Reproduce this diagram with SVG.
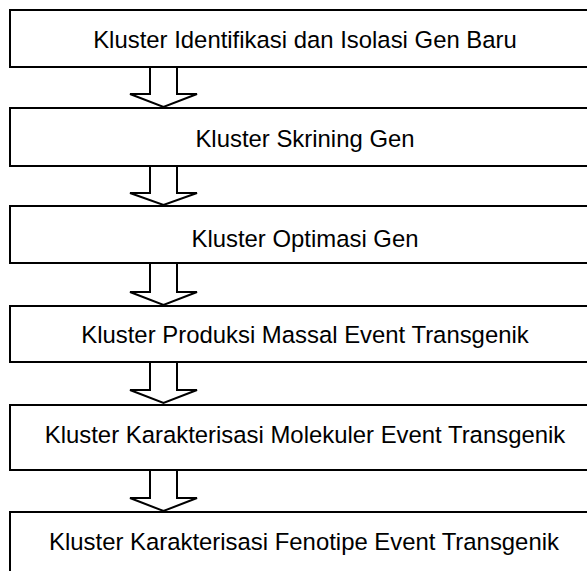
<svg xmlns="http://www.w3.org/2000/svg" width="587" height="571" viewBox="0 0 587 571">
<style>
.box{fill:#fff;stroke:#000;stroke-width:2}
.lbl{font-family:"Liberation Sans",Arial,sans-serif;font-size:23.9px;fill:#000;text-anchor:middle}
.arr{fill:#fff;stroke:#000;stroke-width:2;stroke-linejoin:miter}
</style>
<rect width="587" height="571" fill="#fff"/>
<g id="n1"><rect class="box" x="10" y="10" width="600" height="57"/><text class="lbl" x="305" y="48">Kluster Identifikasi dan Isolasi Gen Baru</text></g>
<g id="n2"><rect class="box" x="10" y="108" width="600" height="58"/><text class="lbl" x="305" y="147">Kluster Skrining Gen</text></g>
<g id="n3"><rect class="box" x="10" y="206" width="600" height="57"/><text class="lbl" x="305" y="247">Kluster Optimasi Gen</text></g>
<g id="n4"><rect class="box" x="10" y="306" width="600" height="56"/><text class="lbl" x="305" y="343">Kluster Produksi Massal Event Transgenik</text></g>
<g id="n5"><rect class="box" x="10" y="405" width="600" height="65"/><text class="lbl" x="305" y="443">Kluster Karakterisasi Molekuler Event Transgenik</text></g>
<g id="n6"><rect class="box" x="10" y="512" width="600" height="80"/><text class="lbl" x="304" y="550">Kluster Karakterisasi Fenotipe Event Transgenik</text></g>
<g id="connectors">
<polygon class="arr" points="150,67 177,67 177,94 197,94 163.5,107 130,94 150,94"/>
<polygon class="arr" points="150,166 177,166 177,193 197,193 163.5,205 130,193 150,193"/>
<polygon class="arr" points="150,263 177,263 177,292 197,292 163.5,305 130,292 150,292"/>
<polygon class="arr" points="150,362 177,362 177,390 197,390 163.5,403 130,390 150,390"/>
<polygon class="arr" points="150,470 177,470 177,498 197,498 163.5,511 130,498 150,498"/>
</g>
</svg>
